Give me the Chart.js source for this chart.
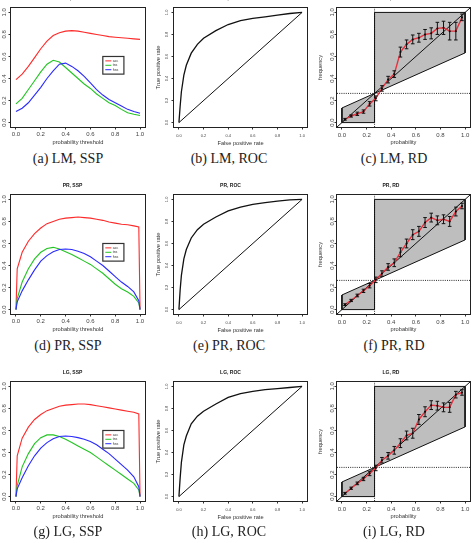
<!DOCTYPE html>
<html lang="en">
<head>
<meta charset="UTF-8">
<title>SSP, ROC and RD plots</title>
<style>
  body { margin: 0; background: #fff; }
  #wrap { position: relative; width: 475px; height: 543px; overflow: hidden; }
  #wrap canvas { position: absolute; }
  .cap {
    position: absolute; width: 160px; text-align: center;
    font-family: "Liberation Serif", "Times New Roman", serif;
    font-size: 14px; line-height: 16px; color: #222;
  }
</style>
</head>
<body>
<div id="wrap"></div>

<script src="https://cdn.jsdelivr.net/npm/chart.js"></script>
<script>
  // ---- data ----
  const TICK_VALUES = [0, 0.2, 0.4, 0.6, 0.8, 1.0];
  const TICK_LABELS = ['0.0', '0.2', '0.4', '0.6', '0.8', '1.0'];
  const SSP_LABELS = ['acc', 'tss', 'hss'];

  // skill score plots
  const THR_LM = [0, 0.05, 0.1, 0.15, 0.2, 0.25, 0.3, 0.35, 0.4, 0.45, 0.5,
                  0.55, 0.6, 0.65, 0.7, 0.75, 0.8, 0.85, 0.9, 0.95, 1.0];
  const LM_ACC = [0.39, 0.44, 0.51, 0.59, 0.67, 0.74, 0.79, 0.815, 0.83, 0.835, 0.83,
                  0.82, 0.81, 0.80, 0.79, 0.78, 0.775, 0.77, 0.765, 0.76, 0.755];
  const LM_TSS = [0.17, 0.22, 0.30, 0.38, 0.46, 0.53, 0.565, 0.55, 0.50, 0.45, 0.40,
                  0.35, 0.31, 0.26, 0.22, 0.18, 0.155, 0.12, 0.09, 0.075, 0.065];
  const LM_HSS = [0.10, 0.13, 0.18, 0.25, 0.32, 0.40, 0.47, 0.53, 0.54, 0.51, 0.47,
                  0.42, 0.36, 0.30, 0.25, 0.21, 0.18, 0.15, 0.12, 0.10, 0.085];

  const THR_PR = [0, 0.01, 0.05, 0.1, 0.15, 0.2, 0.25, 0.3, 0.35, 0.4, 0.45, 0.5,
                  0.55, 0.6, 0.65, 0.7, 0.75, 0.8, 0.85, 0.9, 0.95, 0.99, 1.0];
  const PR_ACC = [0, 0.37, 0.52, 0.62, 0.69, 0.74, 0.78, 0.80, 0.82, 0.83, 0.835, 0.84,
                  0.835, 0.83, 0.82, 0.81, 0.795, 0.785, 0.775, 0.77, 0.76, 0.75, 0];
  const PR_TSS = [0, 0.10, 0.25, 0.37, 0.46, 0.52, 0.555, 0.565, 0.55, 0.525, 0.50, 0.47,
                  0.44, 0.41, 0.37, 0.33, 0.28, 0.23, 0.19, 0.16, 0.12, 0.06, 0];
  const PR_HSS = [0, 0.07, 0.17, 0.27, 0.36, 0.44, 0.49, 0.525, 0.545, 0.55, 0.545, 0.53,
                  0.51, 0.48, 0.44, 0.40, 0.35, 0.30, 0.25, 0.21, 0.16, 0.08, 0];

  const LG_ACC = [0, 0.37, 0.53, 0.63, 0.70, 0.745, 0.78, 0.80, 0.82, 0.83, 0.835, 0.84,
                  0.84, 0.835, 0.825, 0.815, 0.805, 0.795, 0.785, 0.775, 0.765, 0.75, 0];
  const LG_TSS = [0, 0.10, 0.27, 0.39, 0.48, 0.535, 0.56, 0.56, 0.545, 0.52, 0.49, 0.46,
                  0.43, 0.40, 0.36, 0.32, 0.28, 0.24, 0.20, 0.16, 0.12, 0.06, 0];
  const LG_HSS = [0, 0.07, 0.17, 0.28, 0.37, 0.44, 0.49, 0.525, 0.545, 0.55, 0.545, 0.535,
                  0.52, 0.50, 0.47, 0.43, 0.39, 0.34, 0.29, 0.24, 0.18, 0.09, 0];

  // ROC curves
  const FPR = [0, 0.01, 0.02, 0.04, 0.06, 0.1, 0.15, 0.2, 0.3, 0.4, 0.5, 0.6, 0.7, 0.8, 0.9, 1];
  const LM_TPR = [0, 0.15, 0.28, 0.43, 0.52, 0.63, 0.71, 0.765, 0.835, 0.89, 0.925, 0.945, 0.96, 0.975, 0.99, 1];
  const PR_TPR = [0, 0.18, 0.31, 0.46, 0.545, 0.65, 0.725, 0.775, 0.84, 0.895, 0.93, 0.955, 0.97, 0.985, 0.995, 1];
  const LG_TPR = [0, 0.17, 0.31, 0.47, 0.55, 0.66, 0.73, 0.775, 0.84, 0.90, 0.935, 0.955, 0.97, 0.98, 0.99, 1];
  const NO_SKILL = [0, 1];

  // reliability diagrams
  const BINS = [0.025, 0.075, 0.125, 0.175, 0.225, 0.275, 0.325, 0.375, 0.425, 0.475,
                0.525, 0.575, 0.625, 0.675, 0.725, 0.775, 0.825, 0.875, 0.925, 0.975];
  const LM_FREQ = [0.03, 0.06, 0.08, 0.10, 0.17, 0.22, 0.31, 0.39, 0.44, 0.64,
                   0.71, 0.755, 0.77, 0.80, 0.81, 0.855, 0.86, 0.83, 0.83, 0.955];
  const LM_ERR  = [0.008, 0.01, 0.015, 0.015, 0.02, 0.022, 0.025, 0.03, 0.03, 0.045,
                   0.04, 0.04, 0.04, 0.045, 0.05, 0.055, 0.06, 0.08, 0.08, 0.03];
  const PR_FREQ = [0.045, 0.083, 0.128, 0.17, 0.217, 0.27, 0.327, 0.387, 0.425, 0.52,
                   0.60, 0.68, 0.71, 0.79, 0.835, 0.81, 0.82, 0.80, 0.89, 0.94];
  const PR_ERR  = [0.008, 0.01, 0.012, 0.015, 0.02, 0.025, 0.025, 0.03, 0.035, 0.04,
                   0.04, 0.045, 0.045, 0.045, 0.04, 0.04, 0.04, 0.045, 0.04, 0.025];
  const LG_FREQ = [0.03, 0.076, 0.12, 0.16, 0.21, 0.26, 0.33, 0.37, 0.42, 0.485,
                   0.555, 0.575, 0.70, 0.77, 0.83, 0.825, 0.81, 0.81, 0.925, 0.945];
  const LG_ERR  = [0.008, 0.01, 0.012, 0.015, 0.02, 0.025, 0.025, 0.03, 0.035, 0.04,
                   0.04, 0.045, 0.045, 0.045, 0.04, 0.04, 0.04, 0.045, 0.03, 0.025];
  const BASE_RATE = 0.265;

  // ---- layout / style ----
  const SSP_COLORS = ['#ff2a2a', '#22c422', '#2a2aff'];
  const LIM = [-0.04, 1.04];
  const ROW_TOP = [8, 195, 382];
  const BOX_H = 119, TOP_H = 16, X_H = 24;
  const COL = {
    ssp: { boxL: 11,  boxW: 134, yW: 11, rPad: 4, tick: 6, yPad: -0.5, xPad: 1,   xTitle: 5.1, yTitle: 0 },
    roc: { boxL: 174, boxW: 133, yW: 20, rPad: 4, tick: 4, yPad: 2.2,  xPad: 4.3, xTitle: 4.3, yTitle: 0.6 },
    rd:  { boxL: 337, boxW: 133, yW: 25, rPad: 5, tick: 6, yPad: -2,   xPad: 2.1, xTitle: 4.9, yTitle: 4.6 }
  };
  const LEGEND_BOX = [0.70, 0.87, 0.44, 0.60];

  Chart.defaults.font.family = '"Liberation Sans", Arial, sans-serif';

  const pts = (xs, ys) => xs.map((x, i) => ({ x, y: ys[i] }));

  // box round the plot region, as R's box()
  const boxPlugin = {
    id: 'rbox',
    afterDatasetsDraw(chart) {
      const a = chart.chartArea, ctx = chart.ctx;
      ctx.save();
      ctx.strokeStyle = '#222';
      ctx.lineWidth = 1;
      ctx.strokeRect(a.left - 0.5, a.top - 0.5, a.width + 1, a.height + 1);
      ctx.restore();
    }
  };

  // small legend inside the SSP plots
  const legendPlugin = {
    id: 'inlegend',
    afterDatasetsDraw(chart, args, opts) {
      if (!opts || !opts.box) return;
      const [x0, x1, y0, y1] = opts.box;
      const X = chart.scales.x, Y = chart.scales.y, ctx = chart.ctx;
      const L = X.getPixelForValue(x0), R = X.getPixelForValue(x1);
      const T = Y.getPixelForValue(y1), B = Y.getPixelForValue(y0);
      ctx.save();
      ctx.fillStyle = '#fff';
      ctx.fillRect(L, T, R - L, B - T);
      ctx.strokeStyle = '#333';
      ctx.lineWidth = 1.2;
      ctx.strokeRect(L, T, R - L, B - T);
      const ds = chart.data.datasets;
      ctx.font = '3.6px "Liberation Sans", Arial, sans-serif';
      ctx.textBaseline = 'middle';
      ds.forEach((d, i) => {
        const y = T + (B - T) * (i + 1) / (ds.length + 1);
        ctx.strokeStyle = d.borderColor;
        ctx.lineWidth = 1;
        ctx.beginPath(); ctx.moveTo(L + 2.5, y); ctx.lineTo(L + 8.5, y); ctx.stroke();
        ctx.fillStyle = '#333';
        ctx.fillText(d.label, L + 10, y);
      });
      ctx.restore();
    }
  };

  // error bars on the reliability curves
  const errorPlugin = {
    id: 'errbars',
    afterDatasetsDraw(chart) {
      const X = chart.scales.x, Y = chart.scales.y, ctx = chart.ctx;
      ctx.save();
      ctx.strokeStyle = '#111';
      ctx.lineWidth = 1;
      chart.data.datasets.forEach(d => {
        if (!d.errorBars) return;
        d.data.forEach((p, i) => {
          const e = d.errorBars[i];
          const x = X.getPixelForValue(p.x);
          const yl = Y.getPixelForValue(p.y - e), yh = Y.getPixelForValue(p.y + e);
          ctx.beginPath();
          ctx.moveTo(x, yl); ctx.lineTo(x, yh);
          ctx.moveTo(x - 1.8, yl); ctx.lineTo(x + 1.8, yl);
          ctx.moveTo(x - 1.8, yh); ctx.lineTo(x + 1.8, yh);
          ctx.stroke();
        });
      });
      ctx.restore();
    }
  };

  const wrap = document.getElementById('wrap');

  function scale(c, isY, titleText) {
    const s = {
      type: 'linear', min: LIM[0], max: LIM[1],
      afterBuildTicks: sc => { sc.ticks = TICK_VALUES.map(v => ({ value: v })); },
      border: { display: false },
      grid: { drawOnChartArea: false, drawTicks: true, tickLength: 2.5, color: '#333' },
      ticks: {
        autoSkip: false, font: { size: c.tick }, color: '#444',
        padding: isY ? c.yPad : c.xPad,
        callback: (v, i) => TICK_LABELS[i]
      },
      title: {
        display: !!titleText, text: titleText || '', color: '#333', font: { size: 5.7 },
        padding: isY ? { top: c.yTitle, bottom: 0 } : { top: 0, bottom: c.xTitle }
      }
    };
    if (isY) {
      s.ticks.minRotation = 90;
      s.ticks.maxRotation = 90;
      s.ticks.crossAlign = 'center';
      s.afterFit = sc => { sc.width = c.yW; };
    } else {
      s.ticks.maxRotation = 0;
      s.afterFit = sc => { sc.height = X_H; };
    }
    return s;
  }

  function makeChart(kind, row, title, datasets, xTitle, yTitle, extra) {
    const c = COL[kind];
    const cv = document.createElement('canvas');
    cv.width = c.yW + c.boxW + c.rPad;
    cv.height = TOP_H + BOX_H + X_H;
    cv.style.left = (c.boxL - c.yW) + 'px';
    cv.style.top = (ROW_TOP[row] - TOP_H) + 'px';
    wrap.appendChild(cv);
    return new Chart(cv, {
      type: 'scatter',
      data: { datasets },
      options: {
        responsive: false, animation: false, events: [], devicePixelRatio: 1,
        layout: { padding: { right: c.rPad } },
        plugins: Object.assign({
          legend: { display: false },
          tooltip: { enabled: false },
          title: {
            display: true, text: title, color: '#222',
            font: { size: 5, weight: 'bold' },
            padding: { top: TOP_H - 9 - 3, bottom: 9 - 3 }
          }
        }, extra || {}),
        scales: { x: scale(c, false, xTitle), y: scale(c, true, yTitle) }
      },
      plugins: [boxPlugin, legendPlugin, errorPlugin]
    });
  }

  // acc, tss, hss in legend order; hss drawn last (on top) like R
  function sspChart(row, title, thr, series) {
    const ds = series.map((s, i) => ({
      label: SSP_LABELS[i], data: pts(thr, s), showLine: true, order: series.length - i,
      borderColor: SSP_COLORS[i], borderWidth: 1.1, pointRadius: 0, tension: 0
    }));
    makeChart('ssp', row, title, ds, 'probability threshold', '', { inlegend: { box: LEGEND_BOX } });
  }

  function rocChart(row, title, tpr) {
    makeChart('roc', row, title, [
      { data: pts(FPR, tpr), showLine: true, borderColor: '#111', borderWidth: 1.3, pointRadius: 0 },
      { data: pts(NO_SKILL, NO_SKILL), showLine: true, borderColor: '#111', borderWidth: 1, pointRadius: 0 }
    ], 'False positive rate', 'True positive rate');
  }

  function rdChart(row, title, freq, err) {
    const b = BASE_RATE;
    const skillX = [0, b, b, 1, 1, 0, 0];
    const skillY = [0, 0, 1, 1, (1 + b) / 2, b / 2, 0];
    makeChart('rd', row, title, [
      { data: pts(BINS, freq), showLine: true, borderColor: '#e8323f', borderWidth: 1.4,
        pointRadius: 1, pointBackgroundColor: '#000', pointBorderWidth: 0, errorBars: err },
      { data: pts(LIM, LIM), showLine: true, borderColor: '#111', borderWidth: 1, pointRadius: 0 },
      { data: pts(LIM, [b, b]), showLine: true, borderColor: '#111', borderWidth: 0.9,
        borderDash: [1, 1.2], pointRadius: 0 },
      { data: pts([b, b], LIM), showLine: true, borderColor: '#111', borderWidth: 0.9,
        borderDash: [1, 1.2], pointRadius: 0 },
      { data: pts(skillX, skillY), showLine: true, fill: 'shape', backgroundColor: '#bebebe',
        borderColor: '#111', borderWidth: 1, pointRadius: 0 }
    ], 'probability', 'frequency');
  }

  sspChart(0, 'LM, SSP', THR_LM, [LM_ACC, LM_TSS, LM_HSS]);
  rocChart(0, 'LM, ROC', LM_TPR);
  rdChart(0, 'LM, RD', LM_FREQ, LM_ERR);
  sspChart(1, 'PR, SSP', THR_PR, [PR_ACC, PR_TSS, PR_HSS]);
  rocChart(1, 'PR, ROC', PR_TPR);
  rdChart(1, 'PR, RD', PR_FREQ, PR_ERR);
  sspChart(2, 'LG, SSP', THR_PR, [LG_ACC, LG_TSS, LG_HSS]);
  rocChart(2, 'LG, ROC', LG_TPR);
  rdChart(2, 'LG, RD', LG_FREQ, LG_ERR);

  // sub-figure captions
  const CAPTIONS = [
    ['(a) LM, SSP', '(b) LM, ROC', '(c) LM, RD'],
    ['(d) PR, SSP', '(e) PR, ROC', '(f) PR, RD'],
    ['(g) LG, SSP', '(h) LG, ROC', '(i) LG, RD']
  ];
  const CAP_X = [68, 229, 394], CAP_Y = [159, 346, 532];
  CAPTIONS.forEach((r, i) => r.forEach((t, j) => {
    const d = document.createElement('div');
    d.className = 'cap';
    d.textContent = t;
    d.style.left = (CAP_X[j] - 80) + 'px';
    d.style.top = (CAP_Y[i] - 8) + 'px';
    wrap.appendChild(d);
  }));
</script>
</body>
</html>
